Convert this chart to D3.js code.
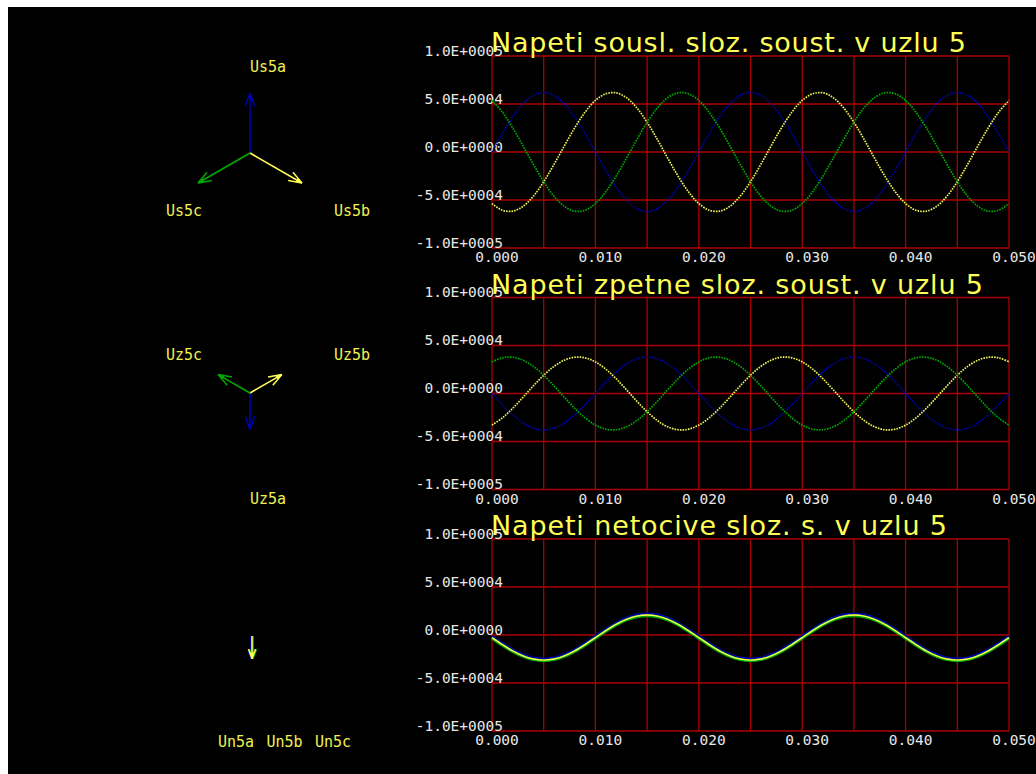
<!DOCTYPE html>
<html>
<head>
<meta charset="utf-8">
<script src="https://cdn.jsdelivr.net/npm/d3@7/dist/d3.min.js"></script>
<style>
  html, body { margin: 0; padding: 0; background: #ffffff; }
  svg { display: block; }
</style>
</head>
<body>
<svg id="chart" width="1036" height="774"></svg>
<script>
// ---- time axis: one sample every millisecond, 0 .. 50 ms ----
const sampleStep = 0.001;
const xTicksMajor = [0, 0.01, 0.02, 0.03, 0.04, 0.05];
const yTicks = [-100000, -50000, 0, 50000, 100000];

// ---- positive sequence voltages (V) ----
const posA = [0, 19160, 36440, 50160, 58970, 62000, 58970, 50160, 36440, 19160, 0, -19160, -36440, -50160, -58970, -62000, -58970, -50160, -36440, -19160,
              0, 19160, 36440, 50160, 58970, 62000, 58970, 50160, 36440, 19160, 0, -19160, -36440, -50160, -58970, -62000, -58970, -50160, -36440, -19160,
              0, 19160, 36440, 50160, 58970, 62000, 58970, 50160, 36440, 19160, 0];
const posB = [-53700, -60640, -61660, -56640, -46070, -31000, -12890, 6480, 25220, 41480, 53700, 60640, 61660, 56640, 46070, 31000, 12890, -6480, -25220, -41480,
              -53700, -60640, -61660, -56640, -46070, -31000, -12890, 6480, 25220, 41480, 53700, 60640, 61660, 56640, 46070, 31000, 12890, -6480, -25220, -41480,
              -53700, -60640, -61660, -56640, -46070, -31000, -12890, 6480, 25220, 41480, 53700];
const posC = [53700, 41480, 25220, 6480, -12890, -31000, -46070, -56640, -61660, -60640, -53700, -41480, -25220, -6480, 12890, 31000, 46070, 56640, 61660, 60640,
              53700, 41480, 25220, 6480, -12890, -31000, -46070, -56640, -61660, -60640, -53700, -41480, -25220, -6480, 12890, 31000, 46070, 56640, 61660, 60640,
              53700, 41480, 25220, 6480, -12890, -31000, -46070, -56640, -61660, -60640, -53700];

// ---- negative sequence voltages (V) ----
const negA = [0, -11740, -22340, -30740, -36140, -38000, -36140, -30740, -22340, -11740, 0, 11740, 22340, 30740, 36140, 38000, 36140, 30740, 22340, 11740,
              0, -11740, -22340, -30740, -36140, -38000, -36140, -30740, -22340, -11740, 0, 11740, 22340, 30740, 36140, 38000, 36140, 30740, 22340, 11740,
              0, -11740, -22340, -30740, -36140, -38000, -36140, -30740, -22340, -11740, 0];
const negB = [-32910, -25430, -15450, -3970, 7900, 19000, 28240, 34710, 37790, 37170, 32910, 25430, 15450, 3970, -7900, -19000, -28240, -34710, -37790, -37170,
              -32910, -25430, -15450, -3970, 7900, 19000, 28240, 34710, 37790, 37170, 32910, 25430, 15450, 3970, -7900, -19000, -28240, -34710, -37790, -37170,
              -32910, -25430, -15450, -3970, 7900, 19000, 28240, 34710, 37790, 37170, 32910];
const negC = [32910, 37170, 37790, 34710, 28240, 19000, 7900, -3970, -15450, -25430, -32910, -37170, -37790, -34710, -28240, -19000, -7900, 3970, 15450, 25430,
              32910, 37170, 37790, 34710, 28240, 19000, 7900, -3970, -15450, -25430, -32910, -37170, -37790, -34710, -28240, -19000, -7900, 3970, 15450, 25430,
              32910, 37170, 37790, 34710, 28240, 19000, 7900, -3970, -15450, -25430, -32910];

// ---- zero sequence voltage (V), identical in all three phases ----
const zeroSeq = [-2700, -9960, -16510, -21710, -25050, -26200, -25050, -21710, -16510, -9960, -2700, 4560, 11110, 16310, 19650, 20800, 19650, 16310, 11110, 4560,
                 -2700, -9960, -16510, -21710, -25050, -26200, -25050, -21710, -16510, -9960, -2700, 4560, 11110, 16310, 19650, 20800, 19650, 16310, 11110, 4560,
                 -2700, -9960, -16510, -21710, -25050, -26200, -25050, -21710, -16510, -9960, -2700];

// ---- phasors: magnitude (V) and angle (deg) for phases a, b, c ----
const phasorNames = [["Us5a", "Us5b", "Us5c"], ["Uz5a", "Uz5b", "Uz5c"], ["Un5a", "Un5b", "Un5c"]];
const phasorMag = [[62000, 62000, 62000], [38000, 38000, 38000], [23500, 23500, 23500]];
const phasorAng = [[90, -30, 210], [-90, 30, 150], [-90, -90, -90]];

const titles = ["Napeti sousl. sloz. soust. v uzlu 5",
                "Napeti zpetne sloz. soust. v uzlu 5",
                "Napeti netocive sloz. s. v uzlu 5"];

// ---- styling ----
const BLUE = "#0000aa", GREEN = "#00aa00", YELLOW = "#ffff55", CURVE_Y = "#f2f258";
const GRID = "#aa0000", LABEL = "#e8e8e8", TXT_Y = "#f0f050";
const MONO = "'DejaVu Sans Mono', 'Liberation Mono', monospace";

const svg = d3.select("#chart");
svg.append("rect").attr("x", 8).attr("y", 7).attr("width", 1028).attr("height", 767).attr("fill", "#000");

const plotLeft = 492, plotRight = 1009, plotH = 192;
const plotTops = [56, 297.5, 539];
const titleLen = [475, 492, 456];

const x = d3.scaleLinear().domain([0, 0.05]).range([plotLeft, plotRight]);

function fmtSci(v) {
  if (v === 0) return "0.0E+0000";
  const e = Math.floor(Math.log10(Math.abs(v)));
  const m = v / Math.pow(10, e);
  return m.toFixed(1) + "E" + (e >= 0 ? "+" : "-") + String(Math.abs(e)).padStart(4, "0");
}

const panels = [
  { series: [[posA, BLUE], [posB, CURVE_Y], [posC, GREEN]], thick: false },
  { series: [[negA, BLUE], [negB, CURVE_Y], [negC, GREEN]], thick: false },
  { series: [[zeroSeq, BLUE], [zeroSeq, GREEN], [zeroSeq, YELLOW]], thick: true }
];

panels.forEach((p, pi) => {
  const top = plotTops[pi];
  const y = d3.scaleLinear().domain([-100000, 100000]).range([top + plotH, top]);
  const g = svg.append("g");

  // grid and frame
  g.selectAll(".vg").data(x.ticks(10)).join("line")
    .attr("x1", d => x(d)).attr("x2", d => x(d))
    .attr("y1", top).attr("y2", top + plotH)
    .attr("stroke", GRID).attr("stroke-width", 1.3);
  g.selectAll(".hg").data(yTicks).join("line")
    .attr("x1", plotLeft).attr("x2", plotRight)
    .attr("y1", d => y(d)).attr("y2", d => y(d))
    .attr("stroke", GRID).attr("stroke-width", 1.3);

  // y tick labels
  g.selectAll(".yl").data(yTicks).join("text")
    .attr("x", plotLeft + 11).attr("y", d => y(d) - 0.5)
    .attr("text-anchor", "end")
    .attr("font-family", MONO).attr("font-size", 14.5)
    .attr("fill", LABEL)
    .text(fmtSci);

  // x tick labels
  g.selectAll(".xl").data(xTicksMajor).join("text")
    .attr("x", d => x(d) + 5).attr("y", top + plotH + 14)
    .attr("text-anchor", "middle")
    .attr("font-family", MONO).attr("font-size", 14.5)
    .attr("fill", LABEL)
    .text(d3.format(".3f"));

  // waveforms
  const line = d3.line()
    .x((d, i) => x(i * sampleStep))
    .y(d => y(d))
    .curve(d3.curveCatmullRom.alpha(0.5));

  if (!p.thick) {
    p.series.forEach(([vals, col]) => {
      g.append("path").attr("d", line(vals))
        .attr("fill", "none").attr("stroke", col)
        .attr("stroke-width", 1.7).attr("stroke-dasharray", "1.6 1.1");
    });
  } else {
    const styles = [[-1.3, 2.6], [0.6, 3.0], [0, 1.4]];
    p.series.forEach(([vals, col], si) => {
      g.append("path").attr("d", line(vals))
        .attr("transform", `translate(0,${styles[si][0]})`)
        .attr("fill", "none").attr("stroke", col)
        .attr("stroke-width", styles[si][1]);
    });
  }

  // title
  g.append("text")
    .attr("x", 491).attr("y", top - 4)
    .attr("font-family", "'DejaVu Sans', 'Liberation Sans', sans-serif")
    .attr("font-size", 27)
    .attr("textLength", titleLen[pi]).attr("lengthAdjust", "spacing")
    .attr("fill", YELLOW)
    .text(titles[pi]);
});

// ---- phasor diagrams ----
const centers = [[250, 153], [250, 393], [252, 636]];
const pr = d3.scaleLinear().domain([0, 62000]).range([0, 60]);
const phaseCols = [BLUE, YELLOW, GREEN];

function arrow(g, cx, cy, len, angDeg, col) {
  const a = angDeg * Math.PI / 180;
  const ux = Math.cos(a), uy = -Math.sin(a);
  const tx = cx + ux * len, ty = cy + uy * len;
  g.append("line").attr("x1", cx).attr("y1", cy).attr("x2", tx).attr("y2", ty)
    .attr("stroke", col).attr("stroke-width", 1.6);
  const hl = Math.min(14, len * 0.45), spread = 20 * Math.PI / 180;
  [-1, 1].forEach(s => {
    const bx = Math.cos(a + Math.PI + s * spread), by = -Math.sin(a + Math.PI + s * spread);
    g.append("line").attr("x1", tx).attr("y1", ty)
      .attr("x2", tx + bx * hl).attr("y2", ty + by * hl)
      .attr("stroke", col).attr("stroke-width", 1.5);
  });
  // small solid tip
  const px = -uy, py = ux;
  const tl = Math.min(6, len * 0.3);
  g.append("path")
    .attr("d", `M${tx},${ty} L${tx - ux * tl + px * 2},${ty - uy * tl + py * 2} L${tx - ux * tl - px * 2},${ty - uy * tl - py * 2} Z`)
    .attr("fill", col);
}

centers.forEach(([cx, cy], di) => {
  const g = svg.append("g");
  const same = phasorAng[di].every(v => v === phasorAng[di][0]);
  phasorMag[di].forEach((m, k) => {
    const off = same ? (k === 0 ? -1 : k === 2 ? 0 : 1) : 0;
    const order = same ? [0, 2, 1][k] : k;
    arrow(g, cx + off, cy, pr(phasorMag[di][order]), phasorAng[di][order], phaseCols[order]);
  });
  phasorNames[di].forEach((name, k) => {
    const a = phasorAng[di][k] * Math.PI / 180;
    let lx = cx + 18 + 97 * Math.cos(a);
    const ly = cy + 10 - 96 * Math.sin(a);
    if (same) lx = cx + 32.5 + (k - 1) * 48.5;
    g.append("text")
      .attr("x", lx).attr("y", ly + 5)
      .attr("text-anchor", "middle")
      .attr("font-family", MONO).attr("font-size", 15)
      .attr("fill", TXT_Y)
      .text(name);
  });
});
</script>
</body>
</html>
